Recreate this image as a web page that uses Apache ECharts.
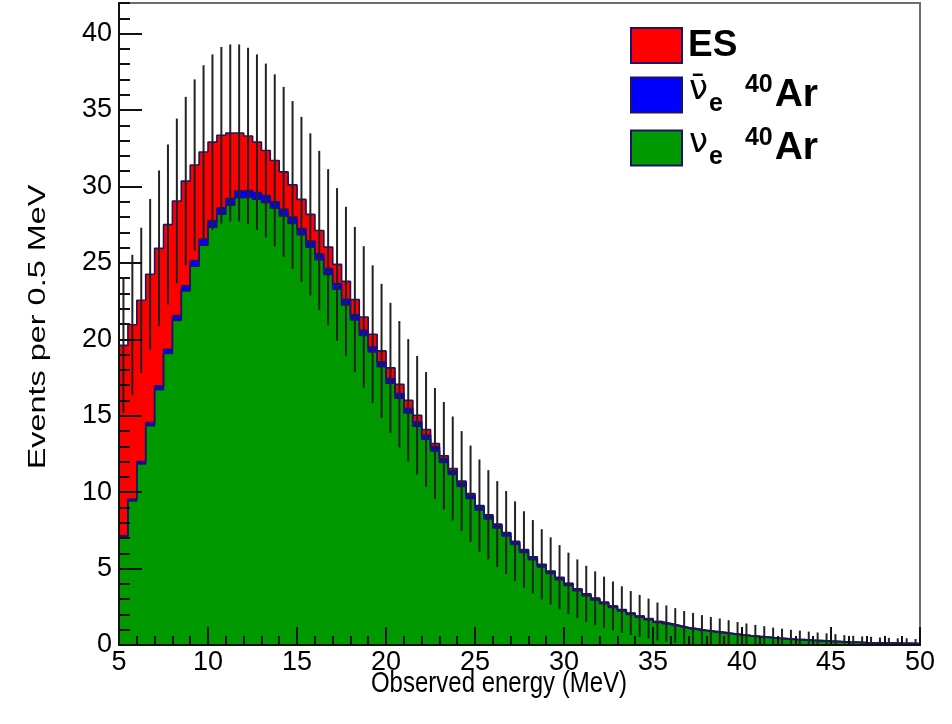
<!DOCTYPE html>
<html>
<head>
<meta charset="utf-8">
<script src="https://cdn.jsdelivr.net/npm/echarts@6/dist/echarts.min.js"></script>
<style>
  html, body { margin: 0; padding: 0; background: #ffffff; }
  #chart { width: 952px; height: 724px; }
</style>
</head>
<body>
<div id="chart"></div>
<script>
// Observed-energy spectrum: 90 bins of 0.5 MeV from 5 to 50 MeV
const E_MIN = 5;
const E_MAX = 50;
const BIN_WIDTH = 0.5;

// nu_e CC on 40Ar (events per bin)
const nueArCounts = [
  7.07, 9.43, 11.84, 14.35, 16.71, 19.07, 21.24, 23.16, 24.78, 26.16,
  27.34, 28.18, 28.77, 29.26, 29.31, 29.16, 28.96, 28.57, 28.07, 27.58,
  26.84, 26.03, 25.21, 24.24, 23.27, 22.25, 21.26, 20.25, 19.17, 18.20,
  17.12, 16.15, 15.18, 14.32, 13.46, 12.70, 11.95, 11.16, 10.37, 9.58,
  8.83, 8.25, 7.66, 7.13, 6.57, 6.05, 5.58, 5.11, 4.68, 4.28,
  3.90, 3.55, 3.23, 2.95, 2.70, 2.46, 2.23, 2.00, 1.82, 1.65,
  1.47, 1.35, 1.23, 1.10, 1.02, 0.93, 0.85, 0.79, 0.72, 0.65,
  0.59, 0.54, 0.49, 0.44, 0.40, 0.36, 0.33, 0.30, 0.27, 0.24,
  0.22, 0.19, 0.17, 0.15, 0.14, 0.12, 0.11, 0.10, 0.10, 0.08
];

// anti-nu_e CC on 40Ar (events per bin)
const nuebarArCounts = [
  0.08, 0.12, 0.16, 0.20, 0.24, 0.28, 0.31, 0.34, 0.37, 0.39,
  0.41, 0.42, 0.43, 0.44, 0.44, 0.44, 0.44, 0.43, 0.43, 0.42,
  0.41, 0.40, 0.39, 0.38, 0.37, 0.36, 0.35, 0.34, 0.33, 0.32,
  0.31, 0.30, 0.29, 0.28, 0.27, 0.26, 0.25, 0.24, 0.23, 0.22,
  0.21, 0.20, 0.19, 0.18, 0.17, 0.16, 0.15, 0.14, 0.13, 0.12,
  0.115, 0.11, 0.10, 0.095, 0.09, 0.085, 0.08, 0.075, 0.07, 0.065,
  0.06, 0.055, 0.05, 0.05, 0.045, 0.04, 0.04, 0.035, 0.035, 0.03,
  0.03, 0.025, 0.025, 0.02, 0.02, 0.02, 0.02, 0.015, 0.015, 0.015,
  0.01, 0.01, 0.01, 0.01, 0.01, 0.01, 0.01, 0.01, 0.01, 0.01
];

// elastic scattering (events per bin)
const esCounts = [
  12.45, 11.40, 10.55, 9.70, 9.00, 8.15, 7.50, 6.85, 6.25, 5.70,
  5.15, 4.75, 4.30, 3.80, 3.55, 3.30, 2.95, 2.70, 2.45, 2.10,
  1.90, 1.74, 1.52, 1.41, 1.26, 1.18, 0.99, 0.87, 0.83, 0.72,
  0.70, 0.61, 0.54, 0.43, 0.37, 0.22, 0.18, 0.15, 0.12, 0.10,
  0.08, 0.07, 0.06, 0.05, 0.05, 0.04, 0.04, 0.03, 0.03, 0.03,
  0.02, 0.02, 0.02, 0.02, 0.01, 0.01, 0.01, 0.01, 0.01, 0.01,
  0.01, 0, 0, 0, 0, 0, 0, 0, 0, 0,
  0, 0, 0, 0, 0, 0, 0, 0, 0, 0,
  0, 0, 0, 0, 0, 0, 0, 0, 0, 0
];

const LABEL_ES = 'ES';
const LABEL_NUEBAR = '\u03BD\u0304e 40Ar';
const LABEL_NUE = '\u03BDe 40Ar';

const FONT = "'Liberation Sans', Arial, Helvetica, sans-serif";
const GREEK_FONT = "'DejaVu Sans', 'Liberation Sans', sans-serif";
const OUTLINE = '#1e1466';
const COLOR_ES = '#ff0000';
const COLOR_NUEBAR = '#0000ff';
const COLOR_NUE = '#009a00';

// Stack tops (drawn back to front, each filled from zero)
const nueTop = nueArCounts.slice();
const nuebarTop = nueArCounts.map((v, i) => v + nuebarArCounts[i]);
const totalTop = nuebarTop.map((v, i) => v + esCounts[i]);

function binRows(tops) {
  return tops.map((v, i) => [E_MIN + i * BIN_WIDTH, E_MIN + (i + 1) * BIN_WIDTH, v]);
}

function stepPoints(tops) {
  const pts = tops.map((v, i) => [E_MIN + i * BIN_WIDTH, v]);
  pts.push([E_MAX, tops[tops.length - 1]]);
  return pts;
}

// Poisson uncertainty of the summed spectrum at bin centres
const errorRows = totalTop.map((v, i) => [E_MIN + (i + 0.5) * BIN_WIDTH, v, Math.sqrt(v)]);

function fillSeries(name, tops, color, z) {
  return {
    name: name,
    type: 'custom',
    silent: true,
    animation: false,
    clip: true,
    z: z,
    itemStyle: { color: color },
    data: binRows(tops),
    encode: { x: [0, 1], y: 2 },
    renderItem: function (params, api) {
      const a = api.coord([api.value(0), 0]);
      const b = api.coord([api.value(1), api.value(2)]);
      return {
        type: 'rect',
        shape: { x: a[0], y: b[1], width: b[0] - a[0] + 0.7, height: a[1] - b[1] },
        style: { fill: color }
      };
    }
  };
}

function outlineSeries(name, tops) {
  return {
    name: name,
    type: 'line',
    step: 'end',
    symbol: 'none',
    showSymbol: false,
    silent: true,
    animation: false,
    z: 5,
    data: stepPoints(tops),
    lineStyle: { color: OUTLINE, width: 1.6 }
  };
}

const chart = echarts.init(document.getElementById('chart'), null, { renderer: 'canvas' });

chart.setOption({
  animation: false,
  backgroundColor: '#ffffff',
  grid: {
    left: 119, right: 32, top: 3, bottom: 79,
    show: true,
    borderColor: '#6e6e6e',
    borderWidth: 2,
    backgroundColor: 'transparent'
  },
  legend: {
    data: [LABEL_ES, LABEL_NUEBAR, LABEL_NUE],
    orient: 'vertical',
    left: 630,
    top: 27,
    padding: 0,
    icon: 'rect',
    itemWidth: 51,
    itemHeight: 35,
    itemGap: 9,
    selectedMode: false,
    itemStyle: { borderColor: OUTLINE, borderWidth: 2 },
    formatter: function (name) {
      if (name === LABEL_ES) return '{es|ES}';
      if (name === LABEL_NUEBAR) return '{nu|\u03BD\u0304}{sub|e}{sup|40}{ar|Ar}';
      return '{nu|\u03BD}{sub|e}{sup|40}{ar|Ar}';
    },
    textStyle: {
      fontFamily: FONT,
      color: '#000',
      padding: [0, 0, 0, 1],
      rich: {
        es: { fontSize: 37, fontWeight: 'bold', fontFamily: FONT, lineHeight: 44, verticalAlign: 'middle' },
        nu: { fontSize: 34, fontFamily: GREEK_FONT, lineHeight: 44, verticalAlign: 'top', padding: [0, 1, 0, 1] },
        sub: { fontSize: 25, fontWeight: 'bold', fontFamily: FONT, lineHeight: 44, verticalAlign: 'bottom' },
        sup: { fontSize: 25, fontWeight: 'bold', fontFamily: FONT, lineHeight: 44, verticalAlign: 'top', padding: [0, 2, 0, 22] },
        ar: { fontSize: 39, fontWeight: 'bold', fontFamily: FONT, lineHeight: 44, verticalAlign: 'middle' }
      }
    }
  },
  graphic: [
    {
      type: 'text',
      x: 499, y: 684,
      scaleY: 1.25,
      silent: true,
      style: { text: 'Observed energy (MeV)', fontFamily: FONT, fontSize: 24, fill: '#000', align: 'center', verticalAlign: 'middle' }
    },
    {
      type: 'text',
      x: 38, y: 327,
      rotation: Math.PI / 2,
      scaleX: 1.35,
      silent: true,
      style: { text: 'Events per 0.5 MeV', fontFamily: FONT, fontSize: 24, fill: '#000', align: 'center', verticalAlign: 'middle' }
    }
  ],
  xAxis: {
    type: 'value',
    min: E_MIN,
    max: E_MAX,
    interval: 5,
    z: 10,
    axisLine: { show: true, onZero: false, lineStyle: { color: '#111', width: 2 } },
    axisTick: { show: true, inside: true, length: 18, lineStyle: { color: '#111', width: 2 } },
    minorTick: { show: true, splitNumber: 5, length: 9, lineStyle: { color: '#111', width: 2 } },
    axisLabel: { fontFamily: FONT, fontSize: 27, color: '#000', margin: 4 },
    splitLine: { show: false },
    minorSplitLine: { show: false }
  },
  yAxis: [
    {
      type: 'value',
      min: 0,
      max: 42,
      interval: 5,
      z: 10,
      axisLine: { show: true, onZero: false, lineStyle: { color: '#111', width: 2 } },
      axisTick: { show: true, inside: true, length: 23, lineStyle: { color: '#111', width: 2 } },
      axisLabel: { fontFamily: FONT, fontSize: 27, color: '#000', margin: 7, showMaxLabel: false },
      splitLine: { show: false }
    },
    {
      type: 'value',
      min: 0,
      max: 42,
      interval: 1,
      position: 'left',
      z: 10,
      axisLine: { show: false },
      axisTick: { show: true, inside: true, length: 11, lineStyle: { color: '#111', width: 2 } },
      axisLabel: { show: false },
      splitLine: { show: false }
    }
  ],
  series: [
    fillSeries(LABEL_ES, totalTop, COLOR_ES, 2),
    fillSeries(LABEL_NUEBAR, nuebarTop, COLOR_NUEBAR, 3),
    fillSeries(LABEL_NUE, nueTop, COLOR_NUE, 4),
    outlineSeries('ES edge', totalTop),
    outlineSeries('anti-nue edge', nuebarTop),
    outlineSeries('nue edge', nueTop),
    {
      name: 'Stat. uncertainty',
      type: 'custom',
      silent: true,
      animation: false,
      clip: true,
      z: 6,
      data: errorRows,
      encode: { x: 0, y: 1 },
      renderItem: function (params, api) {
        const x = api.value(0);
        const y = api.value(1);
        const e = api.value(2);
        const lo = api.coord([x, y - e]);
        const hi = api.coord([x, y + e]);
        return {
          type: 'line',
          shape: { x1: lo[0], y1: lo[1], x2: hi[0], y2: hi[1] },
          style: { stroke: '#222222', lineWidth: 2 }
        };
      }
    }
  ]
});
</script>
</body>
</html>
